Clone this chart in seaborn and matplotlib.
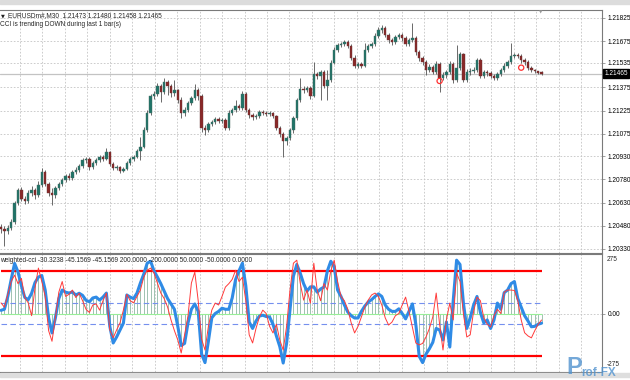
import numpy as np
import pandas as pd
import matplotlib
matplotlib.use("Agg")
import matplotlib.pyplot as plt
import matplotlib.transforms as mtransforms
from matplotlib.patches import Rectangle
import seaborn as sns

# ---------------- data (prices in points, 1 point = 0.00001) ----------------
symbol = "EURUSDm#,M30"
open_pts = [120472,120459,120446,120466,120505,120628,120712,120653,120641,120692,
            120712,120679,120744,120828,120751,120692,120679,120725,120751,120776,
            120802,120789,120828,120841,120867,120906,120912,120861,120886,120906,
            120925,120912,120958,120880,120854,120861,120835,120848,120886,120912,
            120925,120964,120990,121100,121210,121320,121333,121385,121346,121410,
            121385,121339,121359,121294,121210,121229,121275,121307,121359,121320,
            121113,121100,121139,121152,121171,121158,121165,121113,121210,121229,
            121255,121242,121333,121229,121197,121184,121190,121216,121210,121203,
            121210,121190,121113,121074,121029,121048,121100,121178,121294,121365,
            121359,121372,121320,121462,121449,121475,121385,121423,121533,121617,
            121650,121656,121669,121643,121566,121514,121527,121514,121617,121643,
            121656,121708,121747,121760,121715,121682,121669,121702,121715,121695,
            121656,121682,121695,121605,121566,121540,121488,121508,121475,121527,
            121436,121456,121475,121527,121423,121501,121592,121423,121475,121482,
            121488,121553,121449,121475,121469,121449,121436,121462,121488,121514,
            121540,121579,121585,121579,121553,121540,121501,121488,121482,121473]
high_pts = [120492,120479,120485,120524,120641,120725,120731,120673,120712,120738,
            120725,120770,120854,120841,120763,120725,120738,120763,120789,120815,
            120822,120841,120861,120880,120919,120925,120925,120899,120919,120938,
            120938,120983,120964,120893,120873,120867,120861,120899,120925,120938,
            120977,121055,121119,121229,121333,121352,121404,121398,121436,121423,
            121398,121423,121365,121313,121249,121288,121320,121398,121372,121333,
            121132,121152,121165,121184,121184,121178,121178,121229,121242,121294,
            121268,121352,121346,121242,121210,121203,121229,121229,121223,121223,
            121216,121197,121126,121087,121061,121113,121190,121307,121436,121385,
            121385,121385,121540,121475,121488,121488,121488,121553,121637,121663,
            121669,121682,121682,121656,121585,121540,121540,121663,121656,121669,
            121727,121766,121779,121773,121727,121695,121715,121727,121727,121708,
            121695,121792,121708,121617,121579,121553,121527,121520,121546,121540,
            121475,121488,121546,121540,121650,121605,121598,121495,121501,121508,
            121566,121566,121488,121488,121482,121462,121475,121501,121533,121553,
            121663,121598,121598,121592,121566,121553,121514,121495,121482,121480]
low_pts = [120433,120349,120427,120453,120492,120615,120641,120621,120628,120673,
           120653,120666,120731,120738,120673,120615,120660,120712,120738,120763,
           120776,120776,120815,120828,120854,120886,120841,120848,120873,120893,
           120899,120906,120867,120841,120841,120822,120828,120841,120873,120899,
           120919,120906,120983,121087,121197,121300,121320,121281,121333,121326,
           121313,121320,121275,121178,121190,121216,121262,121294,121294,121087,
           121068,121087,121126,121139,121145,121145,121100,121100,121197,121216,
           121229,121229,121216,121178,121165,121171,121178,121197,121190,121190,
           121178,121100,121055,120925,121003,121035,121080,121165,121281,121339,
           121346,121300,121313,121430,121294,121372,121294,121410,121527,121605,
           121637,121643,121630,121553,121501,121501,121501,121508,121605,121630,
           121643,121695,121727,121702,121663,121650,121656,121689,121676,121643,
           121643,121669,121585,121546,121520,121456,121475,121462,121462,121346,
           121423,121436,121462,121404,121410,121488,121410,121410,121456,121469,
           121475,121436,121436,121449,121436,121423,121423,121449,121475,121501,
           121527,121566,121566,121533,121520,121488,121475,121469,121462,121458]
close_pts = [120459,120446,120466,120505,120628,120712,120653,120641,120692,120712,
             120679,120744,120828,120751,120692,120679,120725,120751,120776,120802,
             120789,120828,120841,120867,120906,120912,120861,120886,120906,120925,
             120912,120958,120880,120854,120861,120835,120848,120886,120912,120925,
             120964,120990,121100,121210,121320,121333,121385,121346,121410,121385,
             121339,121359,121294,121210,121229,121275,121307,121359,121320,121113,
             121100,121139,121152,121171,121158,121165,121113,121210,121229,121255,
             121242,121333,121229,121197,121184,121190,121216,121210,121203,121210,
             121190,121113,121074,121029,121048,121100,121178,121294,121365,121359,
             121372,121320,121462,121449,121475,121385,121423,121533,121617,121650,
             121656,121669,121643,121566,121514,121527,121514,121617,121643,121656,
             121708,121747,121760,121715,121682,121669,121702,121715,121695,121656,
             121682,121695,121605,121566,121540,121488,121508,121475,121527,121436,
             121456,121475,121527,121423,121501,121592,121423,121475,121482,121488,
             121553,121449,121475,121469,121449,121436,121462,121488,121514,121540,
             121579,121585,121579,121553,121540,121501,121488,121482,121469,121465]

# weighted CCI (thick blue line + histogram) and fast CCI (thin red line)
cci_weighted = [15,20,80,160,235,195,130,75,65,95,
                145,171,178,110,-20,-91,-20,70,110,100,
                96,101,87,95,85,62,55,73,77,63,
                77,96,-60,-138,-110,-78,-45,87,77,70,
                96,143,185,236,245,200,171,140,105,70,
                45,20,-60,-150,-140,-44,20,45,10,-190,
                -230,-130,-20,0,10,25,20,20,73,160,
                200,236,130,-40,-70,-35,-12,-8,-14,-16,
                -50,-105,-155,-232,-140,20,175,230,190,140,
                105,125,125,100,115,124,200,245,220,110,
                80,40,7,-10,-21,-21,10,35,54,65,
                80,92,80,40,20,10,10,22,0,-25,
                10,45,-50,-200,-230,-190,-165,-135,-70,-77,
                -124,-40,-157,60,250,230,50,-70,-20,40,
                80,5,-44,-30,-70,-30,49,20,98,110,
                140,150,70,30,-10,-35,-62,-60,-50,-45.1569]
cci_fast = [50,30,90,150,180,140,165,75,50,-10,
            120,213,150,80,-80,-130,-20,100,150,80,
            90,110,75,95,60,20,5,40,45,16,
            60,96,-77,-114,-77,-44,16,90,60,50,
            80,110,171,203,213,190,143,96,70,30,
            -30,-80,-124,-185,-100,-10,143,194,60,-120,
            -171,-60,16,49,40,80,124,140,160,203,
            150,170,60,-100,-138,-70,-16,16,0,-60,
            -91,-50,-124,-171,-60,110,236,250,143,63,
            110,49,236,110,60,140,110,200,250,150,
            80,60,20,-44,-91,-60,-16,30,63,87,
            96,80,40,-20,-54,-40,-10,0,40,77,
            10,-63,-138,-147,-140,-110,-70,-16,96,-50,
            -171,-30,49,-30,190,150,0,-110,-100,10,
            77,60,-20,-50,-63,-10,20,0,100,110,
            110,108,60,-30,-90,-105,-114,-80,-50,-30.3238]

price_ticks = [1.21825, 1.21675, 1.21535, 1.21375, 1.21225, 1.21075,
               1.20930, 1.20780, 1.20630, 1.20480, 1.20330]
last_price = 1.21465
ohlc_last = ["1.21473", "1.21480", "1.21458", "1.21465"]
level_high, level_low = 200, -200
level_mid_hi, level_mid_lo = 50, -50
level_zero = 0
signal_bars = [129, 153]
signal_pts = [121417, 121503]
indicator_title = ("weighted-cci -30.3238 -45.1569 -45.1569 200.0000 "
                   "-200.0000 50.0000 -50.0000 0.0000")
status_text = "CCI is trending DOWN during last 1 bar(s)"

# ---------------- figure ----------------
sns.set_style("white")
plt.rcParams['font.family'] = ['Liberation Sans', 'DejaVu Sans']

W, H = 630, 380
fig = plt.figure(figsize=(6.3, 3.8), dpi=100, facecolor="white")
fx = lambda px: px / W
fy = lambda py: 1 - py / H

ax = fig.add_axes([0, fy(253), fx(602), (253 - 10) / H])
ax2 = fig.add_axes([0, fy(372), fx(602), (372 - 254) / H])

df = pd.DataFrame({
    "bar": np.arange(len(close_pts)),
    "open": np.array(open_pts) / 1e5,
    "high": np.array(high_pts) / 1e5,
    "low": np.array(low_pts) / 1e5,
    "close": np.array(close_pts) / 1e5,
    "cci_w": cci_weighted,
    "cci_f": cci_fast,
})

# x scale: 3.4 px per bar, first bar at px 1
px_per_bar = 3.4
xlim = (-1 / px_per_bar, 601 / px_per_bar)
vgrid = [(20 + 22.45 * k - 1) / px_per_bar for k in range(26)]

grid_kw = dict(color="#c4c4c4", lw=0.6, ls=(0, (2, 2)))
spine_col = "#7a7a7a"
FS = 4.7

# ---- main price panel ----
ax.set_xlim(*xlim)
ax.set_ylim(1.20304, 1.21876)
ax.set_xticks(vgrid)
ax.set_xticklabels([])
ax.set_yticks(price_ticks)
ax.set_yticklabels([f"{p:.5f}" for p in price_ticks])
ax.yaxis.tick_right()
ax.tick_params(axis="x", length=0)
ax.tick_params(axis="y", right=True, left=False, length=2.5, width=0.5,
               color=spine_col, labelsize=FS, pad=1.5, labelcolor="black")
ax.grid(True, **grid_kw)
ax.set_axisbelow(True)
ax.spines["left"].set_visible(False)
for s in ["top", "right", "bottom"]:
    ax.spines[s].set_color(spine_col)
    ax.spines[s].set_linewidth(0.8)

ax.axhline(last_price, color="#c3c3c3", lw=0.9, zorder=1)

up = df["close"] >= df["open"]
body_lo = np.minimum(df["open"], df["close"])
body_h = np.maximum((df["close"] - df["open"]).abs(), 0.000012)
ax.vlines(df["bar"], df["low"], df["high"], color="#5e5e5e", lw=0.65, zorder=2)
ax.bar(df["bar"][up], body_h[up], bottom=body_lo[up], width=0.66,
       color="#1f7468", edgecolor="#4a6a63", linewidth=0.3, zorder=3)
ax.bar(df["bar"][~up], body_h[~up], bottom=body_lo[~up], width=0.66,
       color="#8a2828", edgecolor="#663636", linewidth=0.3, zorder=3)

ax.scatter(signal_bars, np.array(signal_pts) / 1e5, s=14, facecolors="none",
           edgecolors="#ff3030", linewidths=0.9, zorder=4)

trans = mtransforms.blended_transform_factory(ax.transAxes, ax.transData)
ax.text(1.004, last_price, f"{last_price:.5f}", transform=trans, ha="left",
        va="center", fontsize=FS, color="white", zorder=6,
        bbox=dict(boxstyle="square,pad=0.18", fc="black", ec="black"))

# ---- indicator panel ----
ax2.set_xlim(*xlim)
ax2.set_ylim(-274, 279)
ax2.set_xticks(vgrid)
ax2.set_xticklabels([])
ax2.set_yticks([0])
ax2.set_yticklabels(["0.00"])
ax2.yaxis.tick_right()
ax2.tick_params(axis="x", length=0)
ax2.tick_params(axis="y", right=True, left=False, length=2.5, width=0.5,
                color=spine_col, labelsize=FS, pad=1.5, labelcolor="black")
ax2.grid(True, **grid_kw)
ax2.set_axisbelow(True)
ax2.spines["left"].set_visible(False)
for s in ["top", "right", "bottom"]:
    ax2.spines[s].set_color(spine_col)
    ax2.spines[s].set_linewidth(0.8)

x0, x1 = df["bar"].iloc[0], df["bar"].iloc[-1]
ax2.vlines(df["bar"], 0, df["cci_w"], color="#8fb8a4", lw=0.6, zorder=2)
ax2.hlines([level_zero], x0, x1, color="#98ee98", lw=0.8, zorder=2)
ax2.hlines([level_mid_hi, level_mid_lo], x0, x1, color="#7590ee", lw=0.8,
           linestyles=(0, (5, 3)), zorder=2)
ax2.hlines([level_high, level_low], x0, x1, color="#ff0000", lw=1.6, zorder=3)
sns.lineplot(data=df, x="bar", y="cci_w", ax=ax2, color="#2f8be6", lw=2.2,
             zorder=4, legend=False)
sns.lineplot(data=df, x="bar", y="cci_f", ax=ax2, color="#ff3a3a", lw=0.7,
             zorder=5, legend=False)
for a in (ax, ax2):
    a.set_xlabel("")
    a.set_ylabel("")

ax2.text(1.008, 0.985, "275", transform=ax2.transAxes, ha="left", va="top",
         fontsize=FS)
ax2.text(1.008, 0.03, "-275", transform=ax2.transAxes, ha="left", va="bottom",
         fontsize=FS, zorder=10)

# ---- texts ----
fig.text(fx(0.5), fy(15.5), "\u25bc", fontsize=3.6, va="center", ha="left",
         family="DejaVu Sans", color="#202020")
fig.text(fx(8), fy(15.5), f"{symbol}  " + " ".join(ohlc_last), fontsize=FS,
         va="center", ha="left")
fig.text(fx(0), fy(24.5), status_text, fontsize=FS, va="center", ha="left")
fig.text(fx(0), fy(260), indicator_title, fontsize=FS, va="center", ha="left")
fig.text(fx(539), fy(12), "\u25bc", fontsize=3.2, va="center", ha="left",
         family="DejaVu Sans", color="#9a9a9a")

# window frame strips
fig.patches.append(Rectangle((0, fy(3.5)), 1, 3.5 / H, transform=fig.transFigure,
                             color="#dcdcdc", zorder=0))
fig.patches.append(Rectangle((0, fy(376.5)), 1, 4 / H, transform=fig.transFigure,
                             color="#dedede", zorder=0))

# watermark (logo)
fig.text(fx(566), fy(379.5), "P", fontsize=17, fontweight="bold",
         color="#5193cf", alpha=0.8, va="bottom", ha="left")
fig.text(fx(581), fy(379.5), "rof-FX", fontsize=8.5, fontweight="bold",
         color="#5193cf", alpha=0.8, va="bottom", ha="left")

fig.savefig("out.png", dpi=100, facecolor="white")
